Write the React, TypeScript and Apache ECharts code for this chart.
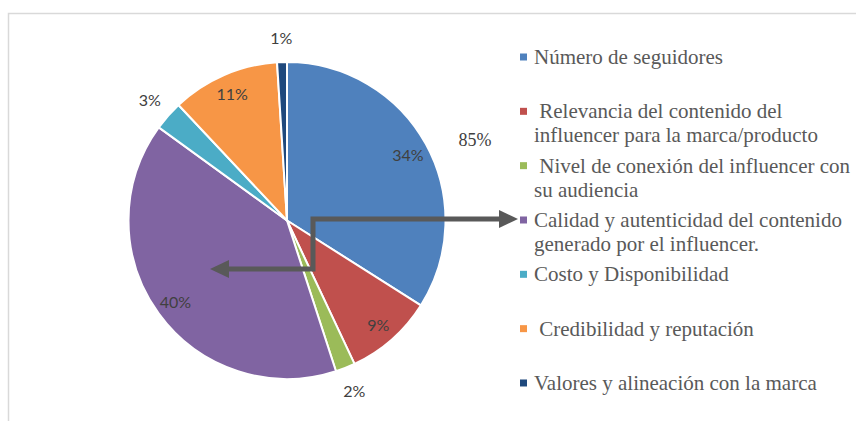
import React, { useEffect, useRef } from "react";
import * as echarts from "echarts";

const categories = [
  "Número de seguidores",
  " Relevancia del contenido del\ninfluencer para la marca/producto",
  " Nivel de conexión del influencer con\nsu audiencia",
  "Calidad y autenticidad del contenido\ngenerado por el influencer.",
  "Costo y Disponibilidad",
  " Credibilidad y reputación",
  "Valores y alineación con la marca",
];
const values = [34, 9, 2, 40, 3, 11, 1];
const colors = ["#4F81BD", "#C0504D", "#9BBB59", "#8064A2", "#4BACC6", "#F79646", "#1F497D"];
const annotationText = "85%";

export default function App() {
  const ref = useRef<HTMLDivElement>(null);
  useEffect(() => {
    if (!ref.current) return;
    const chart = echarts.init(ref.current, undefined, { renderer: "svg" });
    const center = [287, 220.5];
    const R = 158.5;
    const labelStyle = {
      color: "#404040",
      fontFamily: "Lato",
      fontSize: 16,
    };
    const legendGraphics: any[] = [];
    categories.forEach((name, i) => {
      const y = 57 + i * 54.33;
      legendGraphics.push({
        type: "rect",
        shape: { x: 520, y: y - 3.5, width: 7, height: 7 },
        style: { fill: colors[i] },
        silent: true,
      });
      legendGraphics.push({
        type: "text",
        x: 534,
        y: y - 12,
        style: {
          text: name,
          fill: "#595959",
          font: "21px 'Liberation Serif'",
          lineHeight: 24,
          verticalAlign: "top",
          align: "left",
        },
        silent: true,
      });
    });
    const option: any = {
      animation: false,
      backgroundColor: "#ffffff",
      series: [
        {
          type: "pie",
          center,
          radius: R,
          silent: true,
          label: { show: false },
          labelLine: { show: false },
          itemStyle: { borderColor: "#ffffff", borderWidth: 2 },
          data: values.map((v, i) => ({ name: categories[i], value: v, itemStyle: { color: colors[i] } })),
        },
        {
          type: "pie",
          center,
          radius: [130, 140],
          silent: true,
          avoidLabelOverlap: false,
          labelLine: { show: false },
          itemStyle: { color: "rgba(0,0,0,0)", borderWidth: 0 },
          label: { position: "inside", formatter: "{c}%", ...labelStyle },
          data: values.map((v, i) => ({ name: categories[i], value: v, label: { show: v >= 5 } })),
        },
        {
          type: "pie",
          center,
          radius: [175, 185],
          silent: true,
          avoidLabelOverlap: false,
          labelLine: { show: false },
          itemStyle: { color: "rgba(0,0,0,0)", borderWidth: 0 },
          label: { position: "inside", formatter: "{c}%", ...labelStyle },
          data: values.map((v, i) => ({ name: categories[i], value: v, label: { show: v < 5 } })),
        },
      ],
      graphic: [
        {
          type: "rect",
          shape: { x: 8.5, y: 13.5, width: 900, height: 500 },
          style: { fill: "none", stroke: "#d9d9d9", lineWidth: 1.5 },
          silent: true,
        },
        {
          type: "text",
          x: 475,
          y: 140,
          style: {
            text: annotationText,
            fill: "#404040",
            font: "18px 'Liberation Serif'",
            align: "center",
            verticalAlign: "middle",
          },
          silent: true,
        },
        {
          type: "polyline",
          z: 100,
          shape: { points: [[502, 219], [313, 219], [313, 269], [226, 269]] },
          style: { stroke: "#595959", lineWidth: 5, fill: "none", lineJoin: "miter" },
          silent: true,
        },
        {
          type: "polygon",
          z: 100,
          shape: { points: [[499, 210], [518, 219], [499, 228]] },
          style: { fill: "#595959" },
          silent: true,
        },
        {
          type: "polygon",
          z: 100,
          shape: { points: [[229, 260], [210, 269], [229, 278]] },
          style: { fill: "#595959" },
          silent: true,
        },
        ...legendGraphics,
      ],
    };
    chart.setOption(option);
    return () => chart.dispose();
  }, []);
  return (
    <div
      ref={ref}
      style={{ position: "fixed", left: 0, top: 0, width: 856, height: 421, background: "#fff" }}
    />
  );
}
